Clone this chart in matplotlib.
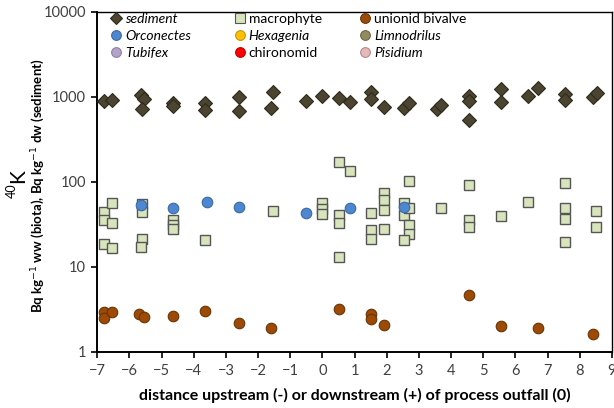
import matplotlib
matplotlib.use('Agg')
import matplotlib.pyplot as plt
from matplotlib.lines import Line2D
from matplotlib.legend import Legend
from matplotlib.ticker import FixedLocator, FixedFormatter, NullLocator

plt.rcParams['font.family'] = ['Lato', 'DejaVu Sans']

# 40K activity vs distance from the outfall
sed_x = [-6.8, -6.55, -5.65, -5.55, -5.6, -4.65, -4.65, -3.65, -3.65, -2.6, -2.6, -1.55, -1.6,
         -0.5, 0.0, 0.5, 0.85, 1.5, 1.5, 1.9, 2.55, 2.7, 3.55, 3.7, 4.55, 4.55, 4.55,
         5.55, 5.55, 6.4, 6.7, 7.55, 7.55, 8.4, 8.55]
sed_y = [890, 915, 1050, 930, 710, 835, 780, 850, 700, 1000, 685, 1130, 730,
         890, 1020, 960, 860, 1150, 930, 765, 730, 835, 710, 800, 1020, 900, 530,
         1220, 875, 1020, 1255, 1075, 915, 1000, 1115]

mac_x = [-6.8, -6.55, -6.8, -6.55, -6.8, -6.55, -5.6, -5.6, -5.6, -5.65, -4.65, -4.65, -4.65,
         -3.65, -1.55, 0, 0, 0, 0.5, 0.85, 0.5, 0.5, 0.5, 1.5, 1.5, 1.5, 1.9, 1.9, 1.9, 1.9,
         2.7, 2.55, 2.55, 2.7, 2.7, 2.7, 2.55, 3.7, 4.55, 4.55, 4.55, 5.55, 6.4,
         7.55, 7.55, 7.55, 7.55, 8.5, 8.5]
mac_y = [44, 56, 35, 33, 18.5, 16.5, 54, 44, 21, 17.2, 35, 31, 28,
         20.5, 45, 56, 48, 42, 172, 134, 40.5, 33, 13, 42.5, 27, 21, 74, 61, 46, 28,
         103, 56, 40.5, 48.5, 31, 24.5, 20.5, 49.5, 91, 35, 29, 39, 57,
         96, 48.5, 36, 19.5, 45, 29.5]

uni_x = [-6.8, -6.8, -6.55, -5.7, -5.55, -4.65, -3.65, -2.6, -1.6, 0.5, 1.5, 1.5, 1.9,
         4.55, 5.55, 6.7, 8.4]
uni_y = [2.95, 2.5, 2.9, 2.75, 2.55, 2.65, 3.0, 2.2, 1.9, 3.2, 2.75, 2.4, 2.05,
         4.65, 2.0, 1.9, 1.62]

orc_x = [-5.65, -4.65, -3.6, -2.6, -0.5, 0.85, 2.55]
orc_y = [53, 49.5, 58, 50.5, 42.5, 49.5, 51]

x_ticks = list(range(-7, 10))
y_ticks = [1, 10, 100, 1000, 10000]
y_labels = ['1', '10', '100', '1000', '10000']

# legend entries: (label, marker, face, edge, italic)
legend_items = [
    ('sediment', 'D', '#4a4430', '#2e2a1c', True),
    ('Orconectes', 'o', '#4f86d0', '#3a69a8', True),
    ('Tubifex', 'o', '#b3a3c8', '#8f80a3', True),
    ('macrophyte', 's', '#d8e4bc', '#555555', False),
    ('Hexagenia', 'o', '#ffc000', '#c79500', True),
    ('chironomid', 'o', '#ff0000', '#c00000', False),
    ('unionid bivalve', 'o', '#9c4a06', '#6b3304', False),
    ('Limnodrilus', 'o', '#948a60', '#6f6845', True),
    ('Pisidium', 'o', '#e6b9b8', '#b08c8b', True),
]

fig = plt.figure(figsize=(6.14, 4.08), dpi=100)
ax = fig.add_axes([0.1585, 0.138, 0.838, 0.8333])

ax.plot(mac_x, mac_y, 's', ms=7.4, mfc='#d8e4bc', mec='#555555', mew=1.0, zorder=3)
ax.plot(uni_x, uni_y, 'o', ms=7.6, mfc='#9c4a06', mec='#6b3304', mew=0.8, zorder=3)
ax.plot(orc_x, orc_y, 'o', ms=7.6, mfc='#4f86d0', mec='#3a69a8', mew=0.8, zorder=4)
ax.plot(sed_x, sed_y, 'D', ms=7.2, mfc='#4a4430', mec='#2e2a1c', mew=0.8, zorder=4)

ax.set_yscale('log')
ax.set_xlim(-7, 9)
ax.set_ylim(1, 10000)
ax.xaxis.set_major_locator(FixedLocator(x_ticks))
ax.yaxis.set_major_locator(FixedLocator(y_ticks))
ax.yaxis.set_major_formatter(FixedFormatter(y_labels))
ax.yaxis.set_minor_locator(NullLocator())
ax.tick_params(axis='both', direction='out', length=4, width=1.2, labelsize=10.5,
               labelcolor='#404040', color='black')
ax.tick_params(axis='x', pad=5)
ax.tick_params(axis='y', pad=4)
for side in ['left', 'bottom']:
    ax.spines[side].set_linewidth(1.4)
for side in ['top', 'right']:
    ax.spines[side].set_linewidth(1.0)

ax.set_xlabel('distance upstream (-) or downstream (+) of process outfall (0)',
              fontsize=11.5, fontweight='bold', labelpad=7)

# y label: small raised "40" then a big "K", then the units line
fig.text(0.020, 1 - 191 / 408, '40', rotation=90, fontsize=9, ha='center', va='center')
fig.text(0.029, 1 - 176 / 408, 'K', rotation=90, fontsize=15, ha='center', va='center')
fig.text(0.062, 0.546, 'Bq kg$^{-1}$ ww (biota), Bq kg$^{-1}$ dw (sediment)', rotation=90,
         fontsize=9.5, fontweight='bold', ha='center', va='center')

# legend in three evenly spaced columns
col_x = [0.022, 0.262, 0.506]
for c in range(3):
    items = legend_items[c * 3:(c + 1) * 3]
    handles = [Line2D([], [], ls='none', marker=mk, ms=7 if mk != 'D' else 6,
                      mfc=fc, mec=ec, mew=0.8) for name, mk, fc, ec, it in items]
    labels = [item[0] for item in items]
    leg = Legend(ax, handles, labels, loc='upper left', bbox_to_anchor=(col_x[c], 1.005),
                 frameon=False, fontsize=10, handlelength=0.7, handletextpad=0.3,
                 labelspacing=0.38, borderaxespad=0.0, borderpad=0.2)
    for txt, item in zip(leg.get_texts(), items):
        if item[4]:
            txt.set_fontstyle('italic')
    ax.add_artist(leg)

fig.savefig('out.png', dpi=100)
